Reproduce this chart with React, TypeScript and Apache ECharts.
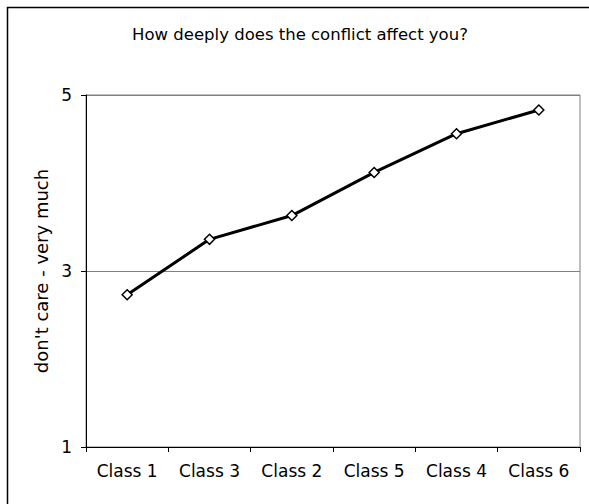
import React, { useEffect, useRef } from "react";
import * as echarts from "echarts";

const categories = ["Class 1", "Class 3", "Class 2", "Class 5", "Class 4", "Class 6"];
const values = [2.73, 3.36, 3.63, 4.12, 4.56, 4.83];
const titleText = "How deeply does the conflict affect you?";
const yAxisName = "don't care - very much";

export default function App() {
  const ref = useRef<HTMLDivElement>(null);
  useEffect(() => {
    if (!ref.current) return;
    const chart = echarts.init(ref.current, null, { renderer: "svg" });
    const font = "DejaVu Sans, Liberation Sans, sans-serif";
    chart.setOption({
      animation: false,
      backgroundColor: "#ffffff",
      textStyle: { fontFamily: font },
      title: {
        text: titleText,
        left: 295,
        top: 21,
        textAlign: "center",
        textStyle: { fontFamily: font, fontSize: 16.5, fontWeight: "normal", color: "#000" },
      },
      graphic: [
        {
          type: "rect",
          shape: { x: 7.5, y: 7.5, width: 640, height: 600 },
          style: { fill: "none", stroke: "#000", lineWidth: 1.5 },
          silent: true,
        },
      ],
      grid: { left: 86, top: 95, right: 9, bottom: 57, show: true, borderColor: "#808080", borderWidth: 1, backgroundColor: "transparent" },
      xAxis: {
        type: "category",
        data: categories,
        boundaryGap: true,
        axisLine: { lineStyle: { color: "#000", width: 1 } },
        axisTick: { show: true, alignWithLabel: false, length: 5, lineStyle: { color: "#000" } },
        axisLabel: { color: "#000", fontSize: 17, fontFamily: font, margin: 15 },
        splitLine: { show: false },
      },
      yAxis: {
        type: "value",
        min: 1,
        max: 5,
        interval: 2,
        name: yAxisName,
        nameLocation: "middle",
        nameGap: 34,
        nameTextStyle: { color: "#000", fontSize: 18, fontFamily: font },
        axisLine: { show: true, lineStyle: { color: "#000", width: 1 } },
        axisTick: { show: true, length: 5, lineStyle: { color: "#000" } },
        axisLabel: { color: "#000", fontSize: 17, fontFamily: font, margin: 14 },
        splitLine: { show: true, lineStyle: { color: "#808080", width: 1 } },
      },
      series: [
        {
          type: "line",
          data: values,
          symbol: "diamond",
          symbolSize: 10,
          itemStyle: { color: "#fff", borderColor: "#000", borderWidth: 1.5 },
          lineStyle: { color: "#000", width: 3 },
        },
      ],
    });
    return () => chart.dispose();
  }, []);
  return <div ref={ref} style={{ position: "fixed", left: 0, top: 0, width: 589, height: 504 }} />;
}
